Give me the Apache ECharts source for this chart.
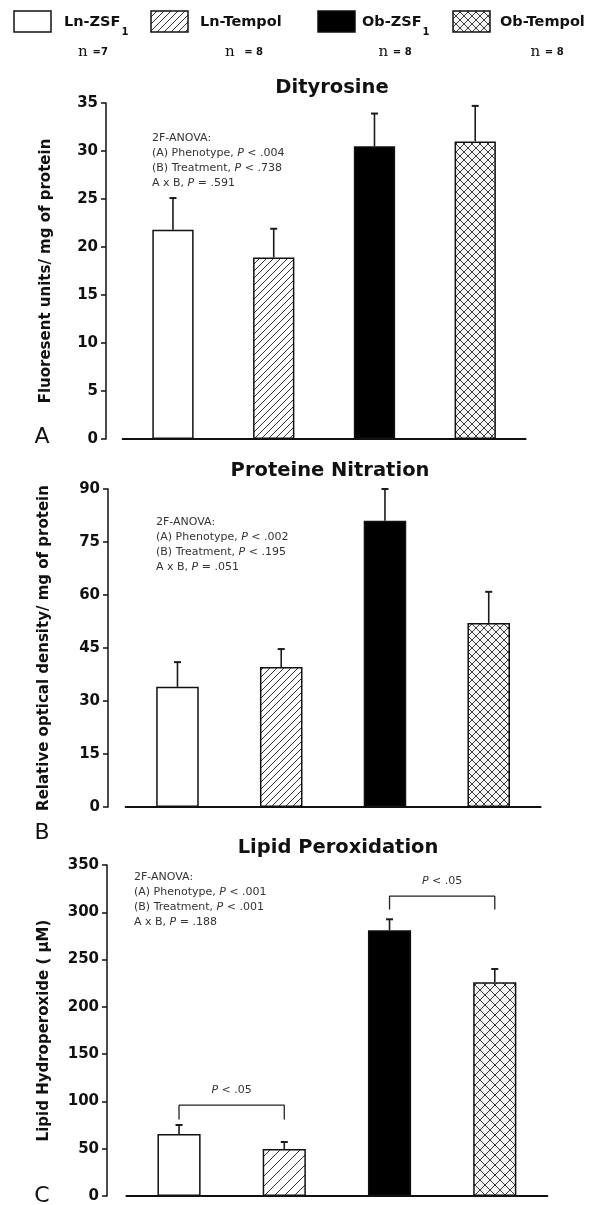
<!DOCTYPE html>
<html>
<head>
<meta charset="utf-8">
<title>Dityrosine, protein nitration, lipid peroxidation</title>
<script src="https://cdn.jsdelivr.net/npm/echarts@6/dist/echarts.min.js"></script>
<style>
  html, body { margin: 0; padding: 0; background: #fff; }
  #chart { width: 602px; height: 1205px; }
</style>
</head>
<body>
<div id="chart"></div>
<script>
// groups, left to right
const groups = ['Ln-ZSF1', 'Ln-Tempol', 'Ob-ZSF1', 'Ob-Tempol'];
const groupN = ['n =7', 'n  = 8', 'n = 8', 'n = 8'];

// A: dityrosine (mean, SEM)
const dityrosineMean = [21.8, 18.9, 30.5, 31.0];
const dityrosineSem = [3.3, 3.0, 3.4, 3.7];
// B: protein nitration
const nitrationMean = [34.0, 39.6, 81.0, 52.1];
const nitrationSem = [7.0, 5.1, 9.0, 8.8];
// C: lipid peroxidation
const lipidMean = [65.5, 49.7, 281, 226];
const lipidSem = [9.6, 7.4, 11.6, 14];

// y ticks per panel
const yTicksA = [0, 35, 5];
const yTicksB = [0, 90, 15];
const yTicksC = [0, 350, 50];

// significance brackets in C: [fromIdx, toIdx, legBottom, top]
const lipidBrackets = [[0, 1, 81, 96], [2, 3, 303, 317]];

const SANS = 'DejaVu Sans';

// fill patterns
function hatch(step) {
  const c = document.createElement('canvas');
  c.width = c.height = step;
  const g = c.getContext('2d');
  g.fillStyle = '#fff';
  g.fillRect(0, 0, step, step);
  g.strokeStyle = '#333';
  g.lineWidth = 1;
  g.beginPath();
  g.moveTo(0, step); g.lineTo(step, 0);
  g.moveTo(-1, 1); g.lineTo(1, -1);
  g.moveTo(step - 1, step + 1); g.lineTo(step + 1, step - 1);
  g.stroke();
  return { image: c, repeat: 'repeat' };
}
function cross(step) {
  const c = document.createElement('canvas');
  c.width = c.height = step;
  const g = c.getContext('2d');
  g.fillStyle = '#f4f4f4';
  g.fillRect(0, 0, step, step);
  g.strokeStyle = '#3a3a3a';
  g.lineWidth = 1;
  g.beginPath();
  g.moveTo(0, step); g.lineTo(step, 0);
  g.moveTo(-1, 1); g.lineTo(1, -1);
  g.moveTo(step - 1, step + 1); g.lineTo(step + 1, step - 1);
  g.moveTo(0, 0); g.lineTo(step, step);
  g.moveTo(-1, step - 1); g.lineTo(1, step + 1);
  g.moveTo(step - 1, -1); g.lineTo(step + 1, 1);
  g.stroke();
  return { image: c, repeat: 'repeat' };
}

const fillsAB = ['#fff', hatch(7), '#000', cross(8)];
const fillsC = ['#fff', hatch(10), '#000', cross(10)];

const panels = [
  { mean: dityrosineMean, sem: dityrosineSem, ticks: yTicksA, fills: fillsAB,
    grid: { left: 122.6, top: 103, width: 403, height: 336 }, offset: 16.6, gap: 52,
    name: 'Fluoresent units/ mg of protein' },
  { mean: nitrationMean, sem: nitrationSem, ticks: yTicksB, fills: fillsAB,
    grid: { left: 125.6, top: 489, width: 415, height: 318 }, offset: 17.6, gap: 56,
    name: 'Relative optical density/ mg of protein' },
  { mean: lipidMean, sem: lipidSem, ticks: yTicksC, fills: fillsC,
    grid: { left: 126.4, top: 865, width: 421, height: 331 }, offset: 19.4, gap: 55,
    name: 'Lipid Hydroperoxide ( µM)' }
];

function errRender(params, api) {
  const base = api.coord([api.value(0), api.value(1)]);
  const top = api.coord([api.value(0), api.value(2)]);
  const st = { stroke: '#1a1a1a', lineWidth: 1.6 };
  return {
    type: 'group',
    children: [
      { type: 'line', shape: { x1: base[0], y1: base[1], x2: top[0], y2: top[1] }, style: st },
      { type: 'line', shape: { x1: top[0] - 3.5, y1: top[1], x2: top[0] + 3.5, y2: top[1] }, style: { stroke: '#1a1a1a', lineWidth: 2 } }
    ]
  };
}

const grids = [], xAxes = [], yAxes = [], series = [];
panels.forEach((p, k) => {
  grids.push(p.grid);
  xAxes.push({
    type: 'category', gridIndex: k, data: groups,
    axisLine: { lineStyle: { color: '#111', width: 2 } },
    axisTick: { show: false }, axisLabel: { show: false }
  });
  yAxes.push({
    type: 'value', gridIndex: k, min: p.ticks[0], max: p.ticks[1], interval: p.ticks[2],
    offset: p.offset,
    name: p.name, nameLocation: 'middle', nameGap: p.gap,
    nameTextStyle: { fontFamily: SANS, fontWeight: 'bold', fontSize: 15, color: '#111' },
    axisLine: { show: true, lineStyle: { color: '#111', width: 1.5 } },
    axisTick: { show: true, length: 5, lineStyle: { color: '#111', width: 1.5 } },
    axisLabel: { fontFamily: SANS, fontWeight: 'bold', fontSize: 15, color: '#111', margin: 8 },
    splitLine: { show: false }
  });
  series.push({
    type: 'custom', xAxisIndex: k, yAxisIndex: k, z: 1,
    renderItem: errRender,
    data: p.mean.map((m, i) => [i, m, m + p.sem[i]])
  });
  series.push({
    type: 'bar', xAxisIndex: k, yAxisIndex: k, barWidth: '41%', z: 2,
    itemStyle: { borderColor: '#111', borderWidth: 1.5 },
    data: p.mean.map((m, i) => ({ value: m, itemStyle: { color: p.fills[i] } }))
  });
});

lipidBrackets.forEach(b => {
  series.push({
    type: 'line', xAxisIndex: 2, yAxisIndex: 2, symbol: 'none', silent: true,
    lineStyle: { color: '#222', width: 1.3 },
    data: [[b[0], b[2]], [b[0], b[3]], [b[1], b[3]], [b[1], b[2]]]
  });
});

// legend drawn by hand: boxes, labels with subscript, n counts
const measure = document.createElement('canvas').getContext('2d');
function textW(txt, font) { measure.font = font; return measure.measureText(txt).width; }

const legendBox = [14, 151, 318, 453];
const legendText = [64, 200, 362, 500];
const legendN = [93, 244, 395, 547];
const legendFills = ['#fff', hatch(7), '#000', cross(8)];
const graphic = [];
const labFont = 'bold 14.5px "DejaVu Sans"';
groups.forEach((g, i) => {
  graphic.push({ type: 'rect', shape: { x: legendBox[i], y: 11, width: 37, height: 21 },
    style: { fill: legendFills[i], stroke: '#111', lineWidth: 1.5 } });
  const sub = /1$/.test(g);
  const main = sub ? g.slice(0, -1) : g;
  graphic.push({ type: 'text', x: legendText[i], y: 22,
    style: { text: main, font: labFont, fill: '#111', verticalAlign: 'middle' } });
  if (sub) {
    graphic.push({ type: 'text', x: legendText[i] + textW(main, labFont) + 1, y: 32,
      style: { text: '1', font: 'bold 10px "DejaVu Sans"', fill: '#111', verticalAlign: 'middle' } });
  }
  const parts = groupN[i].split('=');
  graphic.push({ type: 'text', x: legendN[i], y: 52,
    style: { text: '{n|' + parts[0] + '}{e|=' + parts[1] + '}', align: 'center', verticalAlign: 'middle',
      rich: { n: { fontFamily: 'DejaVu Serif', fontSize: 15, fill: '#111' },
              e: { fontFamily: SANS, fontWeight: 'bold', fontSize: 10, fill: '#111' } } } });
});

// titles, panel letters, ANOVA notes
const titles = [['Dityrosine', 332, 88], ['Proteine Nitration', 330, 471], ['Lipid Peroxidation', 338, 848]];
titles.forEach(t => graphic.push({ type: 'text', x: t[1], y: t[2],
  style: { text: t[0], font: 'bold 19.5px "DejaVu Sans"', fill: '#111', align: 'center', verticalAlign: 'middle' } }));
[['A', 42, 437], ['B', 42, 833], ['C', 42, 1196]].forEach(t => graphic.push({ type: 'text', x: t[1], y: t[2],
  style: { text: t[0], font: '22px "DejaVu Sans"', fill: '#111', align: 'center', verticalAlign: 'middle' } }));

const notes = [
  [152, 131, ['.004', '.738', '.591']],
  [156, 515, ['.002', '.195', '.051']],
  [134, 870, ['.001', '.001', '.188']]
];
notes.forEach(n => graphic.push({ type: 'text', x: n[0], y: n[1],
  style: {
    text: '2F-ANOVA:\n(A) Phenotype, {i|P} < ' + n[2][0] + '\n(B) Treatment, {i|P} < ' + n[2][1] + '\nA x B, {i|P} = ' + n[2][2],
    fontFamily: SANS, fontSize: 11, fill: '#333', lineHeight: 15,
    rich: { i: { fontStyle: 'italic', fontFamily: SANS, fontSize: 11, fill: '#333', lineHeight: 15 } }
  } }));

const chart = echarts.init(document.getElementById('chart'));
chart.setOption({
  animation: false,
  backgroundColor: '#fff',
  grid: grids, xAxis: xAxes, yAxis: yAxes, series: series,
  graphic: graphic
});

// "P < .05" labels centred over each bracket
lipidBrackets.forEach(b => {
  const a = chart.convertToPixel({ xAxisIndex: 2, yAxisIndex: 2 }, [b[0], b[3]]);
  const c = chart.convertToPixel({ xAxisIndex: 2, yAxisIndex: 2 }, [b[1], b[3]]);
  graphic.push({ type: 'text', x: (a[0] + c[0]) / 2, y: a[1] - 15,
    style: { text: '{i|P} < .05', align: 'center', verticalAlign: 'middle', fontFamily: SANS, fontSize: 11, fill: '#333',
      rich: { i: { fontStyle: 'italic', fontFamily: SANS, fontSize: 11, fill: '#333' } } } });
});
chart.setOption({ graphic: graphic });
</script>
</body>
</html>
